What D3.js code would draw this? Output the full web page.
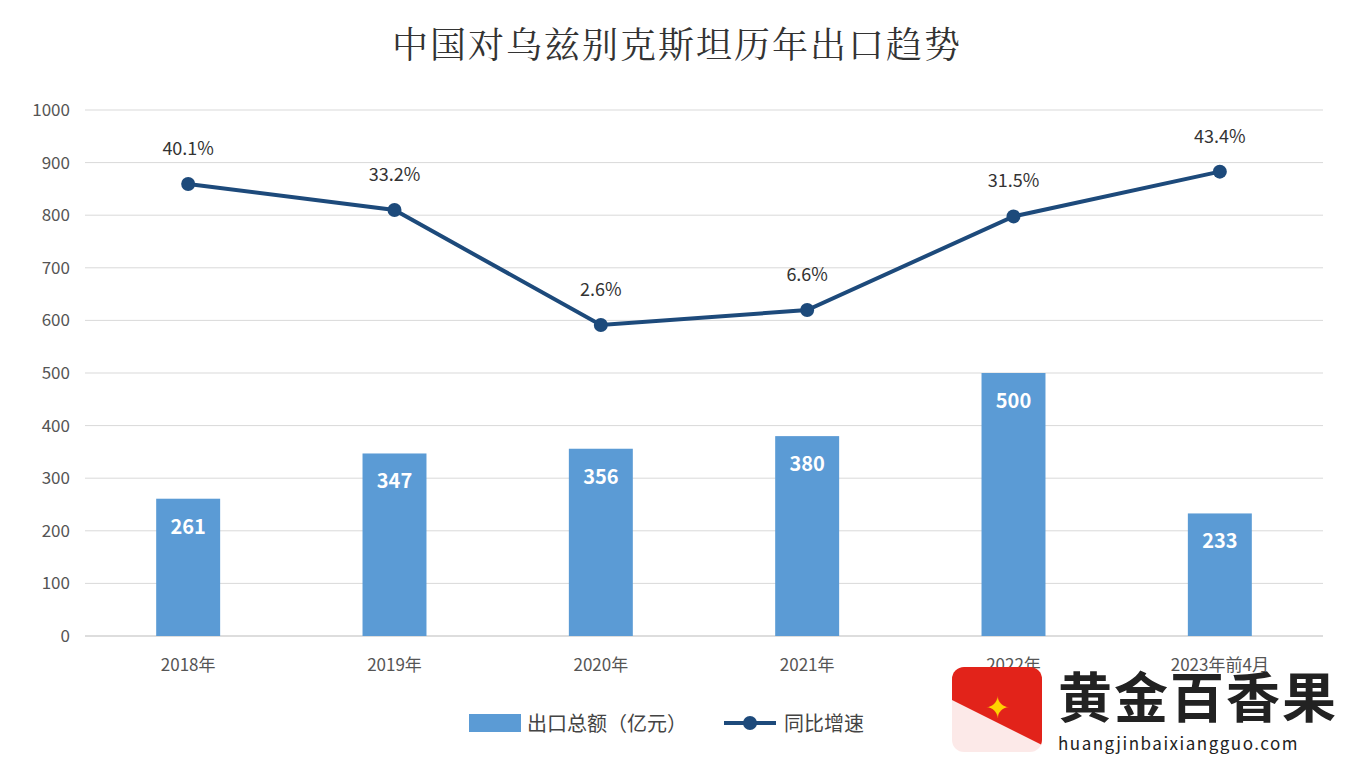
<!DOCTYPE html>
<html><head><meta charset="utf-8">
<script src="https://cdn.jsdelivr.net/npm/d3@7"></script>
<style>body{margin:0;background:#fff}svg{display:block}</style>
</head><body>
<svg id="c" width="1354" height="762"></svg>
<script>
const categories=["2018年","2019年","2020年","2021年","2022年","2023年前4月"];
const exportValues=[261,347,356,380,500,233];
const growthRates=[40.1,33.2,2.6,6.6,31.5,43.4];
const yTicks=[0,100,200,300,400,500,600,700,800,900,1000];

const svg=d3.select("#c");
const font="'Noto Sans CJK SC','Noto Sans',sans-serif";
const m={l:85,r:1323,t:110,b:636};
const x=d3.scaleBand().domain(categories).range([m.l,m.r]).paddingInner(0.69).paddingOuter(0.345);
const y=d3.scaleLinear().domain([0,1000]).range([m.b,m.t]);
const y2=d3.scaleLinear().domain([-80.1,59.8]).range([m.b,m.t]);

svg.append("text").attr("x",677).attr("y",58).attr("text-anchor","middle")
 .attr("font-family","'Noto Serif CJK SC','Noto Sans CJK SC',serif").attr("font-size",36).attr("fill","#333")
 .attr("letter-spacing",2).text("中国对乌兹别克斯坦历年出口趋势");

const g=svg.append("g");
g.selectAll("line.grid").data(yTicks).join("line").attr("x1",m.l).attr("x2",m.r)
 .attr("y1",d=>y(d)).attr("y2",d=>y(d)).attr("stroke",d=>d===0?"#bbb":"#d9d9d9").attr("stroke-width",1);
g.selectAll("text.yt").data(yTicks).join("text").attr("x",70).attr("y",d=>y(d)+6).attr("text-anchor","end")
 .attr("font-family",font).attr("font-size",17).attr("fill","#555").text(d=>d);

g.selectAll("rect.bar").data(exportValues).join("rect").attr("x",(d,i)=>x(categories[i]))
 .attr("width",x.bandwidth()).attr("y",d=>y(d)).attr("height",d=>y(0)-y(d)).attr("fill","#5b9bd5");
g.selectAll("text.bl").data(exportValues).join("text").attr("x",(d,i)=>x(categories[i])+x.bandwidth()/2)
 .attr("y",d=>y(d)+35).attr("text-anchor","middle").attr("font-family",font).attr("font-weight","bold")
 .attr("font-size",20).attr("fill","#fff").text(d=>d);

g.selectAll("text.xl").data(categories).join("text").attr("x",d=>x(d)+x.bandwidth()/2).attr("y",671)
 .attr("text-anchor","middle").attr("font-family",font).attr("font-size",17).attr("fill","#555").text(d=>d);

const cx=(d,i)=>x(categories[i])+x.bandwidth()/2;
const line=d3.line().x((d,i)=>cx(d,i)).y(d=>y2(d));
g.append("path").datum(growthRates).attr("d",line).attr("fill","none").attr("stroke","#1d4a7b").attr("stroke-width",4);
g.selectAll("circle.pt").data(growthRates).join("circle").attr("cx",cx).attr("cy",d=>y2(d)).attr("r",7).attr("fill","#1d4a7b");
g.selectAll("text.pl").data(growthRates).join("text").attr("x",cx).attr("y",d=>y2(d)-29)
 .attr("text-anchor","middle").attr("font-family",font).attr("font-size",18).attr("fill","#333").text(d=>d.toFixed(1)+"%");

// legend
svg.append("rect").attr("x",469).attr("y",714).attr("width",52).attr("height",18).attr("fill","#5b9bd5");
svg.append("text").attr("x",527).attr("y",731).attr("font-family",font).attr("font-size",20).attr("fill","#444").text("出口总额（亿元）");
svg.append("line").attr("x1",724).attr("x2",776).attr("y1",723).attr("y2",723).attr("stroke","#1d4a7b").attr("stroke-width",4);
svg.append("circle").attr("cx",750).attr("cy",723).attr("r",7).attr("fill","#1d4a7b");
svg.append("text").attr("x",784).attr("y",731).attr("font-family",font).attr("font-size",20).attr("fill","#444").text("同比增速");

// watermark
const w=svg.append("g");
w.append("rect").attr("x",952).attr("y",667).attr("width",90).attr("height",85).attr("rx",12).attr("fill","#e2231a");
w.append("path").attr("d","M952,700 L1042,745 L1042,752 L952,752Z").attr("fill","#fff").attr("opacity",0.9);
w.append("text").attr("x",997).attr("y",718).attr("text-anchor","middle").attr("font-size",30).attr("fill","#ffd200").text("✦");
w.append("text").attr("x",1058).attr("y",718).attr("font-family",font).attr("font-weight","bold").attr("font-size",54).attr("fill","#222").attr("letter-spacing",2).text("黄金百香果");
w.append("text").attr("x",1058).attr("y",750).attr("font-family",font).attr("font-size",17).attr("fill","#222").attr("letter-spacing",1.5).text("huangjinbaixiangguo.com");
</script>
</body></html>
